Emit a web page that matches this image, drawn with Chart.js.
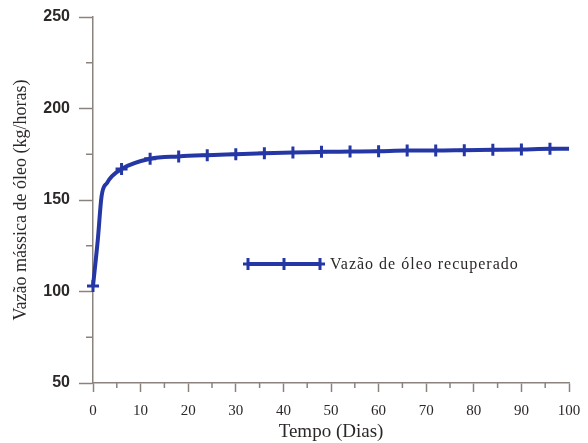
<!DOCTYPE html>
<html>
<head>
<meta charset="utf-8">
<script src="https://cdn.jsdelivr.net/npm/chart.js@4"></script>
<style>
  html, body { margin: 0; padding: 0; background: #ffffff; }
  #wrap { width: 588px; height: 443px; }
</style>
</head>
<body>
<div id="wrap"><canvas id="canva_linha"></canvas></div>
<script>
// dados
var dias = [0, 1, 1.8, 3, 4, 6, 12, 18, 24, 30, 36, 42, 48, 54, 60, 66, 72, 78, 84, 90, 96, 100];
var vazao = [103, 128, 152, 159.5, 163, 167, 172.5, 173.8, 174.5, 175, 175.5, 176, 176.3, 176.5, 176.7, 177, 177, 177.2, 177.4, 177.6, 178, 178];
var diasMarcados = [0, 6, 12, 18, 24, 30, 36, 42, 48, 54, 60, 66, 72, 78, 84, 90, 96];
var ticksX = [0, 10, 20, 30, 40, 50, 60, 70, 80, 90, 100];
var ticksY = [50, 100, 150, 200, 250];

var azul = 'rgb(36, 55, 165)';
var eixo = 'rgb(140, 130, 125)';
var texto = 'rgb(45, 40, 40)';

var pontos = dias.map(function (d, i) { return { x: d, y: vazao[i] }; });

// marcas menores nos eixos
var marcasMenores = {
  id: 'marcasMenores',
  afterDraw: function (chart) {
    var c = chart.ctx;
    var sx = chart.scales.x, sy = chart.scales.y;
    c.save();
    c.strokeStyle = eixo;
    c.lineWidth = 1.5;
    for (var v = 5; v < 100; v += 10) {
      var px = sx.getPixelForValue(v);
      c.beginPath();
      c.moveTo(px, sy.bottom);
      c.lineTo(px, sy.bottom + 5);
      c.stroke();
    }
    for (var w = 75; w < 250; w += 50) {
      var py = sy.getPixelForValue(w);
      c.beginPath();
      c.moveTo(sx.left, py);
      c.lineTo(sx.left - 7, py);
      c.stroke();
    }
    c.restore();
  }
};

// legenda dentro da area do grafico
var legendaInterna = {
  id: 'legendaInterna',
  afterDraw: function (chart) {
    var c = chart.ctx;
    var x0 = 248, x1 = 320, y = 264;
    c.save();
    c.strokeStyle = azul;
    c.lineWidth = 4;
    c.beginPath();
    c.moveTo(x0, y);
    c.lineTo(x1, y);
    c.stroke();
    [x0, (x0 + x1) / 2, x1].forEach(function (mx) {
      c.lineWidth = 3;
      c.beginPath();
      c.moveTo(mx, y - 6);
      c.lineTo(mx, y + 6);
      c.moveTo(mx - 5, y);
      c.lineTo(mx + 5, y);
      c.stroke();
    });
    c.fillStyle = texto;
    c.font = '16px "Liberation Serif", serif';
    c.letterSpacing = '1px';
    c.textBaseline = 'middle';
    c.fillText('Vazão de óleo recuperado', 330, y + 1);
    c.restore();
  }
};

var ctx = document.getElementById('canva_linha').getContext('2d');
var grafico = new Chart(ctx, {
  type: 'line',
  data: {
    datasets: [{
      label: 'Vazão de óleo recuperado',
      data: pontos,
      borderColor: azul,
      backgroundColor: azul,
      borderWidth: 4,
      clip: false,
      cubicInterpolationMode: 'monotone',
      pointStyle: 'cross',
      pointRadius: function (c) {
        return diasMarcados.indexOf(c.raw.x) >= 0 ? 6 : 0;
      },
      pointBorderWidth: 3,
      pointHoverRadius: 6
    }]
  },
  options: {
    responsive: true,
    maintainAspectRatio: false,
    animation: false,
    layout: { autoPadding: false, padding: { top: 17, right: 19, left: 0, bottom: 0 } },
    plugins: {
      legend: { display: false },
      tooltip: { enabled: false }
    },
    scales: {
      x: {
        type: 'linear',
        min: 0,
        max: 100,
        afterBuildTicks: function (s) { s.ticks = ticksX.map(function (v) { return { value: v }; }); },
        afterFit: function (s) { s.height = 60; s.paddingRight = 0; s.paddingLeft = 0; },
        border: { color: eixo, width: 1.5 },
        grid: { drawOnChartArea: false, tickLength: 9, tickColor: eixo, tickWidth: 1.5 },
        ticks: {
          color: texto,
          padding: 10,
          maxRotation: 0,
          font: { family: '"Liberation Serif", serif', size: 15 }
        },
        title: {
          display: true,
          text: 'Tempo (Dias)',
          color: texto,
          padding: { top: 4, bottom: 0 },
          font: { family: '"Liberation Serif", serif', size: 19 }
        }
      },
      y: {
        min: 50,
        max: 250,
        afterBuildTicks: function (s) { s.ticks = ticksY.map(function (v) { return { value: v }; }); },
        afterFit: function (s) { s.width = 93; s.paddingTop = 0; s.paddingBottom = 0; },
        border: { color: eixo, width: 1.5 },
        grid: { drawOnChartArea: false, tickLength: 14, tickColor: eixo, tickWidth: 1.5 },
        ticks: {
          color: texto,
          padding: 9,
          font: { family: '"Liberation Sans", Arial, sans-serif', size: 16, weight: 'bold' }
        },
        title: {
          display: true,
          text: 'Vazão mássica de óleo (kg/horas)',
          color: texto,
          padding: { top: 10, bottom: 4 },
          font: { family: '"Liberation Serif", serif', size: 18 }
        }
      }
    }
  },
  plugins: [marcasMenores, legendaInterna]
});
</script>
</body>
</html>
